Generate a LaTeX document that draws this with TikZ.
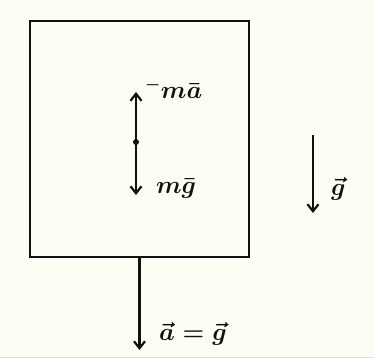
\documentclass[tikz,border=0pt]{standalone}
\usetikzlibrary{arrows.meta}
\definecolor{bg}{HTML}{FDFDF4}
\definecolor{ink}{HTML}{111111}
\begin{document}
\begin{tikzpicture}[x=1bp,y=-1bp, line width=2.2bp, draw=ink,
  >={Straight Barb[length=7bp,width=11bp]},
  lbl/.style={font=\fontsize{26}{30}\selectfont\boldmath, inner sep=0pt, text=ink},
  big/.style={font=\fontsize{31}{36}\selectfont\boldmath, inner sep=0pt, text=ink}]
\fill[bg] (0,0) rectangle (374,358);
\fill[gray!25] (0,356.5) rectangle (374,358);
\useasboundingbox (0,0) rectangle (374,358);
\node[draw=ink, line width=2.5bp, minimum width=219bp, minimum height=236bp, inner sep=0pt, outer sep=0pt] (box) at (139.5,139) {};
% centre forces
\coordinate (c) at (136,142);
\coordinate (up) at (136,92);
\coordinate (dn) at (136,195);
\fill[ink] (c) circle (3bp);
\draw[->] (c) -- (up);
\draw[->] (c) -- (dn);
\node[lbl, anchor=base west] (ma) at (144,98) {$^{-}m\bar{a}$};
\node[lbl, anchor=base west] (mg) at (155,193) {$m\bar{g}$};
% gravity
\coordinate (g1) at (313,135);
\coordinate (g2) at (313,213);
\draw[->] (g1) -- (g2);
\node[big, anchor=base west] (gv) at (330,195) {$\vec{g}$};
% acceleration
\coordinate (bt) at (139.5,350);
\draw[->] (box.south) -- (bt);
\node[big, anchor=base west] (ag) at (158,340) {$\vec{a}=\vec{g}$};
\end{tikzpicture}
\end{document}
